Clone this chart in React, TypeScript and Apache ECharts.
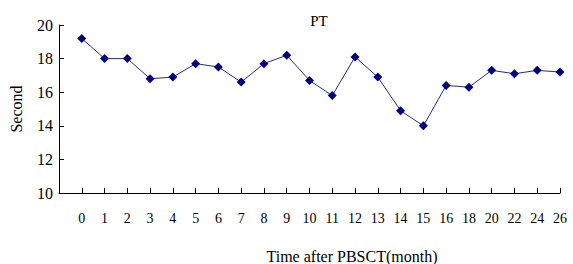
import React, { useEffect, useRef } from "react";
import * as echarts from "echarts";

const categories = ["0","1","2","3","4","5","6","7","8","9","10","11","12","13","14","15","16","18","20","22","24","26"];
const ptValues = [19.2,18.0,18.0,16.8,16.9,17.7,17.5,16.6,17.7,18.2,16.7,15.8,18.1,16.9,14.9,14.0,16.4,16.3,17.3,17.1,17.3,17.2];
const yTicks = [10, 12, 14, 16, 18, 20];

const FONT = "Liberation Serif";

export default function App() {
  const ref = useRef<HTMLDivElement>(null);
  useEffect(() => {
    const chart = echarts.init(ref.current!, null, { renderer: "svg" });
    chart.setOption({
      animation: false,
      backgroundColor: "#ffffff",
      title: {
        text: "PT",
        left: 314,
        top: 8,
        textAlign: "center",
        textStyle: { fontFamily: FONT, fontSize: 15, fontWeight: "normal", color: "#000" },
      },
      grid: { left: 58, right: 13, top: 25, bottom: 71 },
      xAxis: {
        type: "value",
        min: -1,
        max: categories.length - 1,
        interval: 1,
        splitLine: { show: false },
        axisLine: { onZero: false, lineStyle: { color: "#000", width: 1 } },
        axisTick: { inside: true, length: 5, lineStyle: { color: "#000" } },
        axisLabel: {
          margin: 18,
          fontFamily: FONT,
          fontSize: 14,
          color: "#000",
          formatter: (v: number) => (v >= 0 && v < categories.length ? categories[v] : ""),
        },
      },
      yAxis: {
        type: "value",
        min: yTicks[0],
        max: yTicks[yTicks.length - 1],
        interval: 2,
        name: "Second",
        nameLocation: "middle",
        nameGap: 35,
        nameTextStyle: { fontFamily: FONT, fontSize: 16, color: "#000" },
        splitLine: { show: false },
        axisLine: { show: true, onZero: false, lineStyle: { color: "#000", width: 1 } },
        axisTick: { show: true, inside: true, length: 5, lineStyle: { color: "#000" } },
        axisLabel: { margin: 6, fontFamily: FONT, fontSize: 16, color: "#000" },
      },
      graphic: [
        {
          type: "text",
          x: 352,
          y: 256,
          style: {
            text: "Time after PBSCT(month)",
            font: `16px "${FONT}"`,
            fill: "#000",
            textAlign: "center",
            textVerticalAlign: "middle",
          },
        },
      ],
      series: [
        {
          type: "line",
          data: ptValues.map((v, i) => [i, v]),
          symbol: "diamond",
          symbolSize: 9,
          itemStyle: { color: "#000080" },
          lineStyle: { color: "#2a2a7a", width: 1 },
        },
      ],
    });
    return () => chart.dispose();
  }, []);
  return (
    <div
      ref={ref}
      style={{ position: "fixed", left: 0, top: 0, width: 573, height: 264 }}
    />
  );
}
